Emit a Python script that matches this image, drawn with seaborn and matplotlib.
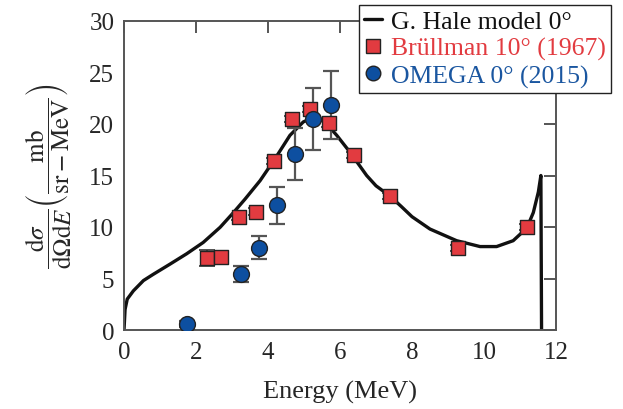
import numpy as np
import pandas as pd
import matplotlib
matplotlib.use("Agg")
import matplotlib.pyplot as plt
import seaborn as sns
from matplotlib.lines import Line2D

# ---- data ----
model_E = [0.0, 0.03, 0.09, 0.26, 0.54, 0.81, 1.28, 1.74, 2.20, 2.67, 3.04, 3.36,
           3.78, 4.19, 4.61, 4.98, 5.17, 5.35, 5.58, 5.91, 6.28, 6.74, 7.0, 7.39,
           7.7, 8.0, 8.5, 9.24, 9.89, 10.35, 10.81, 11.19, 11.37, 11.51, 11.58, 11.6]
model_y = [0.0, 2.0, 3.0, 3.8, 4.8, 5.4, 6.4, 7.4, 8.5, 9.97, 11.4, 12.7,
           14.5, 16.6, 18.9, 20.2, 20.5, 20.55, 20.2, 18.9, 17.25, 15.0, 14.0, 13.0,
           12.0, 11.0, 9.8, 8.67, 8.1, 8.1, 8.67, 9.9, 11.4, 13.4, 15.0, -1.0]

brull_E = [2.30, 2.69, 3.19, 3.68, 4.18, 4.68, 5.18, 5.69, 6.40, 7.39, 9.29, 11.19]
brull_y = [7.0, 7.05, 11.0, 11.5, 16.4, 20.45, 21.45, 20.05, 17.0, 13.0, 8.0, 10.0]
brull_err = [0.8, 0.5, 0.3, 0.3, 0.3, 0.3, 0.3, 0.3, 0.3, 0.3, 0.3, 0.3]

omega_E = [1.74, 3.24, 3.75, 4.24, 4.74, 5.24, 5.75]
omega_y = [0.55, 5.45, 8.0, 12.1, 17.1, 20.45, 21.8]
omega_err = [0.3, 0.8, 1.15, 1.8, 2.55, 3.0, 3.3]

labels = ["G. Hale model 0°", "Brüllman 10° (1967)", "OMEGA 0° (2015)"]
xticks = [0, 2, 4, 6, 8, 10, 12]
yticks = [0, 5, 10, 15, 20, 25, 30]

# ---- style ----
sns.set_theme(style="white")
plt.rcParams["font.family"] = ["Liberation Serif", "DejaVu Serif"]
plt.rcParams["mathtext.fontset"] = "stix"

red = "#e23b40"
blue = "#0d4fa0"
blue_txt = "#1a56a0"
gray = "#555555"

fig = plt.figure(figsize=(6.23, 4.10), dpi=100)
ax = fig.add_axes([124 / 623, 1 - 331 / 410, (556 - 124) / 623, (331 - 22) / 410])

model_df = pd.DataFrame({"E": model_E, "y": model_y})
sns.lineplot(data=model_df, x="E", y="y", sort=False, estimator=None,
             color="#111111", lw=2.4, ax=ax, zorder=2)

ax.errorbar(brull_E, brull_y, yerr=brull_err, fmt="none", ecolor="#333333",
            elinewidth=1.2, capsize=5.5, capthick=1.2, zorder=3)
brull_df = pd.DataFrame({"E": brull_E, "y": brull_y})
sns.scatterplot(data=brull_df, x="E", y="y", marker="s", s=105, color=red,
                edgecolor="#222222", linewidth=1.0, ax=ax, zorder=4)

ax.errorbar(omega_E, omega_y, yerr=omega_err, fmt="none", ecolor="#555555",
            elinewidth=1.6, capsize=5.5, capthick=1.6, zorder=3)
omega_df = pd.DataFrame({"E": omega_E, "y": omega_y})
sns.scatterplot(data=omega_df, x="E", y="y", marker="o", s=130, color=blue,
                edgecolor="#222222", linewidth=1.0, ax=ax, zorder=5)

ax.set_xlim(0, 12)
ax.set_ylim(0, 30)
ax.set_xticks(xticks)
ax.set_yticks(yticks)
ax.set_xticklabels([str(t) for t in xticks])
ax.set_yticklabels([str(t) for t in yticks])
ax.tick_params(direction="in", length=8.5, width=1.4, color=gray,
               top=True, right=True, labelsize=18)
ax.tick_params(axis="x", pad=8)
ax.tick_params(axis="y", pad=7)
for s in ax.spines.values():
    s.set_color(gray)
    s.set_linewidth(1.4)

ax.set_xlabel("Energy (MeV)", fontsize=19, labelpad=12)
ax.set_ylabel(r"$\dfrac{\mathrm{d}\sigma}{\mathrm{d}\Omega\mathrm{d}E}"
              r"\left(\dfrac{\mathrm{mb}}{\mathrm{sr}-\mathrm{MeV}}\right)$",
              fontsize=18, labelpad=12)

handles = [
    Line2D([], [], color="#111111", lw=2.4),
    Line2D([], [], marker="s", ls="none", markersize=10, markerfacecolor=red,
           markeredgecolor="#222222"),
    Line2D([], [], marker="o", ls="none", markersize=10.5, markerfacecolor=blue,
           markeredgecolor="#222222"),
]
leg = fig.legend(handles, labels, loc="upper right",
                 bbox_to_anchor=(611 / 623, 1 - 6 / 410),
                 bbox_transform=fig.transFigure, fontsize=18.5,
                 frameon=True, fancybox=False, framealpha=1,
                 edgecolor="#222222", handlelength=0.7, handletextpad=0.35,
                 borderpad=0.2, labelspacing=0.15, borderaxespad=0)
leg.get_frame().set_linewidth(1.0)
for txt, c in zip(leg.get_texts(), ["#111111", red, blue_txt]):
    txt.set_color(c)

fig.savefig("out.png", dpi=100)
